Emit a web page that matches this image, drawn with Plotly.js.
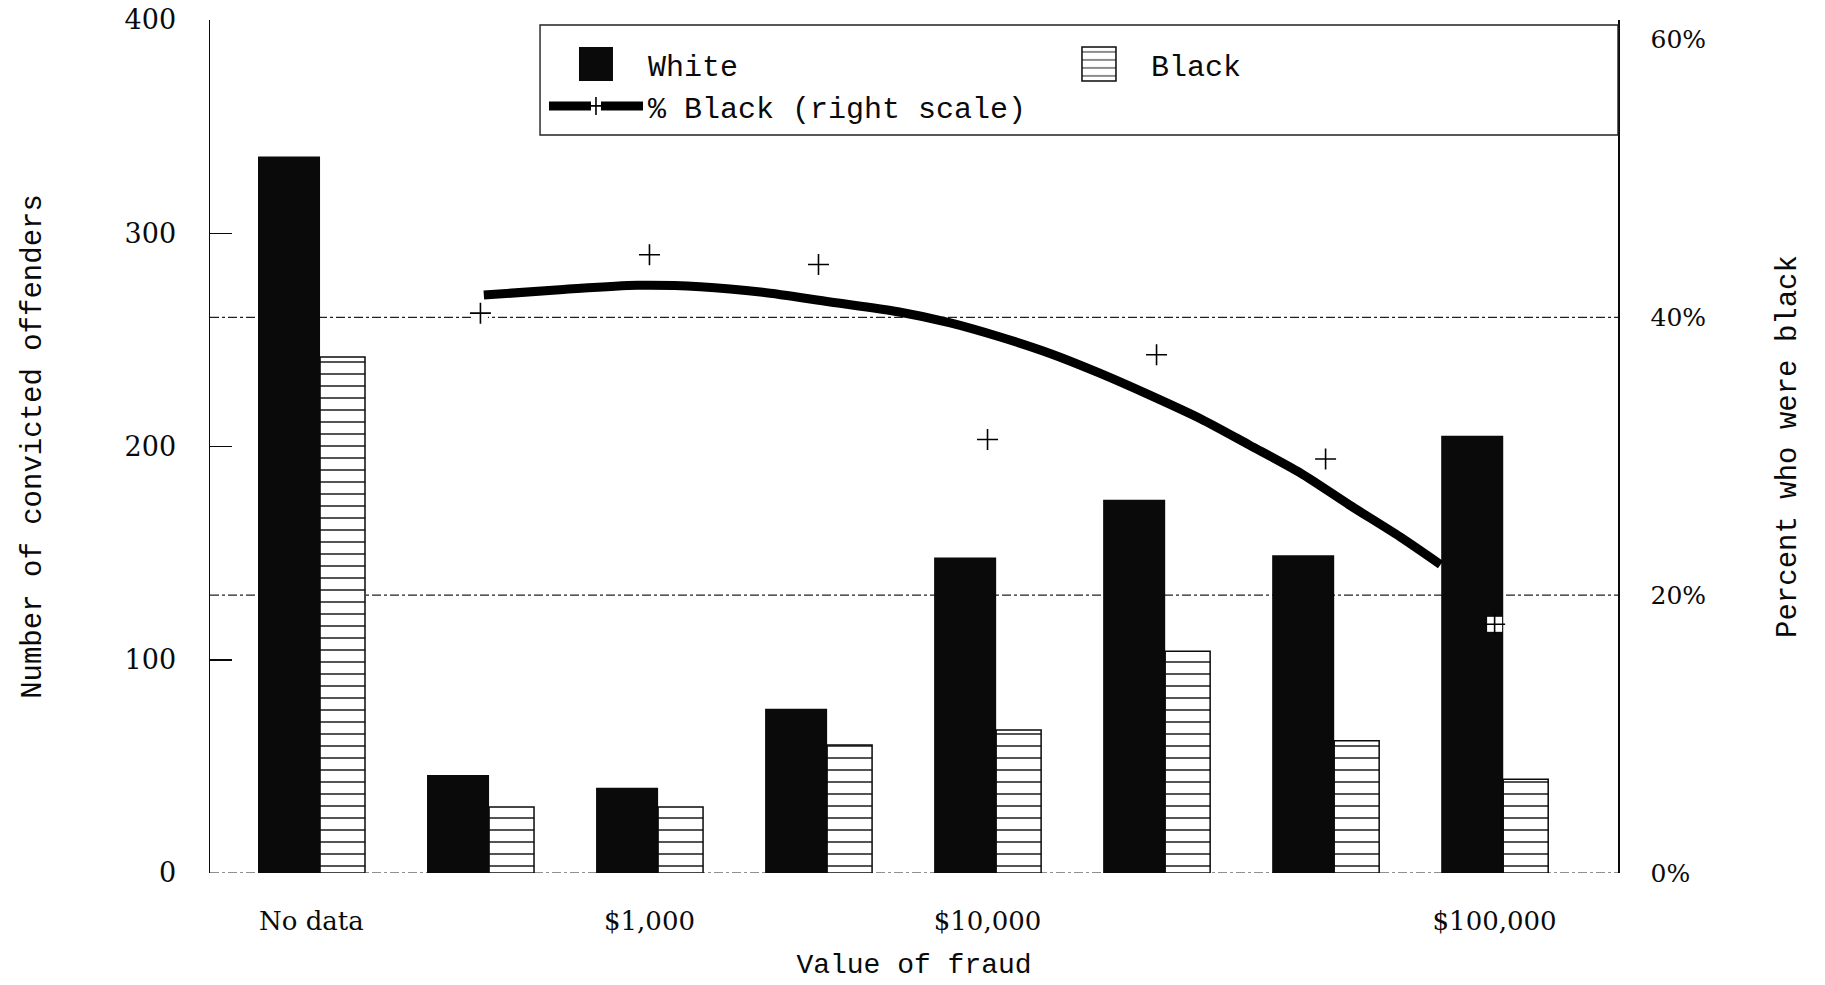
<!DOCTYPE html>
<html>
<head>
<meta charset="utf-8">
<script src="https://cdn.plot.ly/plotly-3.0.1.min.js"></script>
<style>
html, body { margin: 0; padding: 0; background: #ffffff; }
#chart { width: 1825px; height: 985px; }
</style>
</head>
<body>
<div id="chart"></div>
<script>
// ---- data ----
const groupIndex = [0, 1, 2, 3, 4, 5, 6, 7];
const tickPositions = [0, 2, 4, 7];
const tickLabels = ['No data', '$1,000', '$10,000', '$100,000'];
const whiteCounts = [336, 46, 40, 77, 148, 175, 149, 205];
const blackCounts = [242, 31, 31, 60, 67, 104, 62, 44];
const pctGroups = [1, 2, 3, 4, 5, 6, 7];
const pctBlack = [40.3, 44.5, 43.8, 31.2, 37.3, 29.8, 17.9];
const fitX = [1.02, 1.49, 1.93, 2.30, 2.67, 3.07, 3.47, 3.78, 4.07, 4.37, 4.66, 4.96, 5.26, 5.55, 5.85, 6.14, 6.44, 6.68];
const fitPct = [41.6, 42.0, 42.3, 42.2, 41.8, 41.1, 40.4, 39.6, 38.6, 37.4, 36.0, 34.4, 32.7, 30.8, 28.8, 26.5, 24.2, 22.2];
const rightTickVals = [0, 20, 40, 60];
const rightTickText = ['0%', '20%', '40%', '60%'];
const gridPct = [0, 20, 40];
const leftTickVals = [0, 100, 200, 300, 400];

const INK = '#0a0a0a';
const serif = 'DejaVu Serif, Liberation Serif, serif';
const mono = 'Liberation Mono, DejaVu Sans Mono, monospace';

const data = [
  {
    type: 'bar', name: 'White', x: groupIndex, y: whiteCounts, yaxis: 'y',
    width: 0.367, offset: -0.316,
    marker: { color: INK, line: { width: 0 } }
  },
  {
    type: 'bar', name: 'Black', x: groupIndex, y: blackCounts, yaxis: 'y',
    width: 0.266, offset: 0.051,
    marker: {
      color: '#ffffff',
      pattern: { shape: '-', fgcolor: '#333', bgcolor: '#ffffff', size: 12, solidity: 0.14, fillmode: 'replace' },
      line: { color: INK, width: 1.5 }
    }
  },
  {
    type: 'scatter', mode: 'lines', name: '% Black (right scale)', x: fitX, y: fitPct, yaxis: 'y2',
    line: { color: '#000', width: 9, shape: 'spline', smoothing: 0.8 }
  },
  {
    type: 'scatter', mode: 'markers', x: pctGroups, y: pctBlack, yaxis: 'y2', showlegend: false,
    marker: { symbol: 'square', size: 15, color: '#ffffff', line: { width: 0 } }
  },
  {
    type: 'scatter', mode: 'markers', x: pctGroups, y: pctBlack, yaxis: 'y2', showlegend: false,
    marker: { symbol: 'cross-thin', size: 15, color: '#000', line: { color: '#000', width: 1.6 } }
  }
];

const gridShapes = gridPct.map(function (v) {
  return {
    type: 'line', xref: 'paper', yref: 'y2', x0: 0, x1: 1, y0: v, y1: v,
    line: { color: '#222', width: 1.2, dash: 'dashdot' }, layer: 'below'
  };
});

const layout = {
  width: 1825, height: 985,
  margin: { l: 210, r: 207, t: 20, b: 112, pad: 0 },
  paper_bgcolor: '#ffffff', plot_bgcolor: '#ffffff',
  font: { family: serif, color: INK, size: 25 },
  barmode: 'overlay',
  hovermode: false,
  showlegend: true,
  legend: {
    orientation: 'h', x: 0.2372, xanchor: 'left', y: 0.979, yanchor: 'top',
    bgcolor: 'rgba(0,0,0,0)', borderwidth: 0,
    itemwidth: 94, entrywidth: 394, entrywidthmode: 'pixels',
    font: { family: mono, size: 30, color: INK },
    traceorder: 'normal'
  },
  xaxis: {
    range: [-0.6, 7.73], tickvals: tickPositions, ticktext: tickLabels,
    showgrid: false, zeroline: false, showline: false, ticks: '',
    ticklabelstandoff: 30,
    tickfont: { family: serif, size: 26, color: INK },
    title: { text: 'Value of fraud', font: { family: mono, size: 28, color: INK }, standoff: 18 },
    automargin: false, fixedrange: true
  },
  yaxis: {
    range: [0, 400], tickvals: leftTickVals,
    ticks: 'inside', ticklen: 22, tickwidth: 1.5, tickcolor: INK,
    showline: true, linewidth: 1.5, linecolor: INK,
    showgrid: false, zeroline: false,
    ticklabelstandoff: 27,
    tickfont: { family: serif, size: 27, color: INK },
    title: { text: 'Number of convicted offenders', font: { family: mono, size: 29, color: INK }, standoff: 74 },
    automargin: false, fixedrange: true
  },
  yaxis2: {
    overlaying: 'y', side: 'right', anchor: 'x',
    range: [0, 61.4], tickvals: rightTickVals, ticktext: rightTickText,
    showgrid: false,
    showline: true, linewidth: 1.5, linecolor: INK,
    ticks: '', zeroline: false,
    ticklabelstandoff: 26,
    tickfont: { family: serif, size: 25, color: INK },
    title: { text: 'Percent who were black', font: { family: mono, size: 29, color: INK }, standoff: 70 },
    automargin: false, fixedrange: true
  },
  shapes: gridShapes.concat([
    {
      type: 'rect', xref: 'paper', yref: 'paper', x0: 0.2344, x1: 1, y0: 0.8652, y1: 0.9941,
      line: { color: '#222', width: 1.4 }, fillcolor: 'rgba(0,0,0,0)', layer: 'above'
    }
  ])
};

const gd = document.getElementById('chart');
Plotly.newPlot(gd, data, layout, { displayModeBar: false, staticPlot: true }).then(function () {
  const NS = 'http://www.w3.org/2000/svg';
  gd.querySelectorAll('.legend .traces').forEach(function (item) {
    const t = item.querySelector('.legendtext');
    const txt = t ? t.textContent : '';
    if (txt === 'White' || txt === 'Black') {
      item.querySelectorAll('path.legendbar, .legendpoints path').forEach(function (p) {
        p.setAttribute('d', 'M17,17H-17V-17H17Z');
      });
    } else if (txt.indexOf('%') === 0) {
      const ln = item.querySelector('.legendlines path');
      if (ln) {
        const bb = ln.getBBox();
        const cx = bb.x + bb.width / 2;
        const g = ln.parentNode;
        const r = document.createElementNS(NS, 'rect');
        r.setAttribute('x', cx - 5); r.setAttribute('y', -9);
        r.setAttribute('width', 10); r.setAttribute('height', 18);
        r.setAttribute('fill', '#ffffff');
        g.appendChild(r);
        const c = document.createElementNS(NS, 'path');
        c.setAttribute('d', 'M' + cx + ',-9V9M' + (cx - 6) + ',0H' + (cx + 6));
        c.setAttribute('stroke', '#000'); c.setAttribute('stroke-width', '1.6'); c.setAttribute('fill', 'none');
        g.appendChild(c);
      }
    }
  });
});
</script>
</body>
</html>
